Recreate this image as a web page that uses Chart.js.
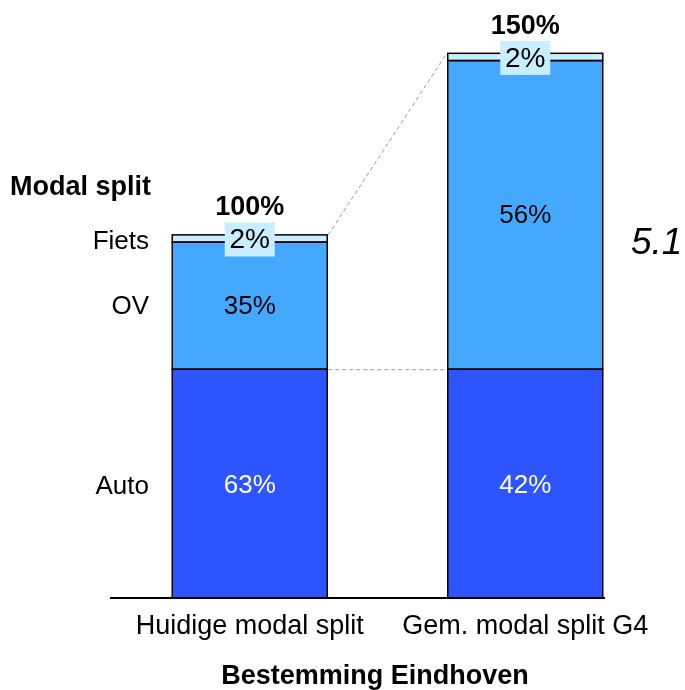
<!DOCTYPE html>
<html>
<head>
<meta charset="utf-8">
<script src="https://cdn.jsdelivr.net/npm/chart.js@4/dist/chart.umd.min.js"></script>
<style>
  body { margin: 0; background: #fff; }
  #wrap { width: 685px; height: 690px; position: relative; }
</style>
</head>
<body>
<div id="wrap"><canvas id="chart"></canvas></div>
<script>
'use strict'
// waarden (bar 2 is 150% van bar 1)
const categorieen = ['Huidige modal split', 'Gem. modal split G4'];
const modi = ['Auto', 'OV', 'Fiets'];
const auto = [63, 63];
const ov = [35, 85];
const fiets = [2, 2];
const autoLabels = ['63%', '42%'];
const ovLabels = ['35%', '56%'];
const fietsLabels = ['2%', '2%'];
const totaalLabels = ['100%', '150%'];

const FONT = 'Arial, "Liberation Sans", sans-serif';

const labelsPlugin = {
    id: 'labels',
    afterDatasetsDraw(chart) {
        const ctx = chart.ctx;
        const mAuto = chart.getDatasetMeta(0).data;
        const mOv = chart.getDatasetMeta(1).data;
        const mFiets = chart.getDatasetMeta(2).data;
        const base = mAuto[0].base;
        ctx.save();

        // randen van de segmenten (enkele lijn op de grens)
        ctx.strokeStyle = '#000';
        ctx.lineWidth = 1.5;
        [mAuto, mOv, mFiets].forEach(m => m.forEach(el => {
            ctx.strokeRect(el.x - el.width / 2, el.y, el.width, el.base - el.y);
        }));

        // stippellijnen tussen de balken
        ctx.strokeStyle = '#9a9a9a';
        ctx.lineWidth = 1;
        ctx.setLineDash([4, 3]);
        ctx.beginPath();
        ctx.moveTo(mFiets[0].x + mFiets[0].width / 2 + 1, mFiets[0].y);
        ctx.lineTo(mFiets[1].x - mFiets[1].width / 2 - 1, mFiets[1].y);
        ctx.moveTo(mAuto[0].x + mAuto[0].width / 2 + 1, mAuto[0].y + 0.5);
        ctx.lineTo(mAuto[1].x - mAuto[1].width / 2 - 1, mAuto[1].y + 0.5);
        ctx.stroke();
        ctx.setLineDash([]);

        // as
        ctx.strokeStyle = '#000';
        ctx.lineWidth = 2;
        ctx.beginPath();
        ctx.moveTo(110, base);
        ctx.lineTo(605, base);
        ctx.stroke();

        ctx.textAlign = 'center';
        ctx.textBaseline = 'middle';
        for (let i = 0; i < 2; i++) {
            const a = mAuto[i], o = mOv[i], f = mFiets[i];
            ctx.font = '26px ' + FONT;
            ctx.fillStyle = '#fff';
            ctx.fillText(autoLabels[i], a.x, (a.y + a.base) / 2 + 2);
            ctx.fillStyle = '#000';
            ctx.fillText(ovLabels[i], o.x, (o.y + o.base) / 2 + 1);
            // fiets label met achtergrond
            const fy = (f.y + f.base) / 2;
            ctx.fillStyle = '#c8eeff';
            ctx.fillRect(f.x - 25, fy - 16, 50, 34);
            ctx.fillStyle = '#000';
            ctx.font = '28px ' + FONT;
            ctx.fillText(fietsLabels[i], f.x, fy + 2);
            ctx.font = 'bold 27px ' + FONT;
            ctx.fillText(totaalLabels[i], f.x, f.y - 27);
            ctx.font = '27px ' + FONT;
            ctx.fillText(categorieen[i], a.x, base + 29);
        }

        // modus labels links
        ctx.font = '26px ' + FONT;
        ctx.textAlign = 'right';
        ctx.fillText(modi[2], 149, (mFiets[0].y + mFiets[0].base) / 2 + 3);
        ctx.fillText(modi[1], 149, (mOv[0].y + mOv[0].base) / 2 + 1);
        ctx.fillText(modi[0], 149, (mAuto[0].y + mAuto[0].base) / 2 + 3);
        ctx.textAlign = 'left';
        ctx.font = 'bold 27px ' + FONT;
        ctx.fillText('Modal split', 10, 188);

        ctx.textAlign = 'center';
        ctx.fillText('Bestemming Eindhoven', 375, 677);

        ctx.font = 'italic 37px ' + FONT;
        ctx.textAlign = 'left';
        ctx.fillText('5.1', 631, 244);
        ctx.restore();
    }
};

const ctx = document.getElementById('chart').getContext('2d');
const myChart = new Chart(ctx, {
    type: 'bar',
    data: {
        labels: categorieen,
        datasets: [
            { label: modi[0], data: auto, backgroundColor: '#2d55ff' },
            { label: modi[1], data: ov, backgroundColor: '#45a8ff' },
            { label: modi[2], data: fiets, backgroundColor: '#c8eeff' }
        ].map(d => Object.assign(d, {
            borderWidth: 0,
            categoryPercentage: 1,
            barPercentage: 0.5626
        }))
    },
    plugins: [labelsPlugin],
    options: {
        responsive: true,
        maintainAspectRatio: false,
        animation: false,
        layout: { padding: { left: 112, right: 22, top: 17, bottom: 92 } },
        plugins: { legend: { display: false }, tooltip: { enabled: false } },
        scales: {
            x: { stacked: true, display: false },
            y: { stacked: true, display: false, min: 0, max: 160 }
        }
    }
});
</script>
</body>
</html>
